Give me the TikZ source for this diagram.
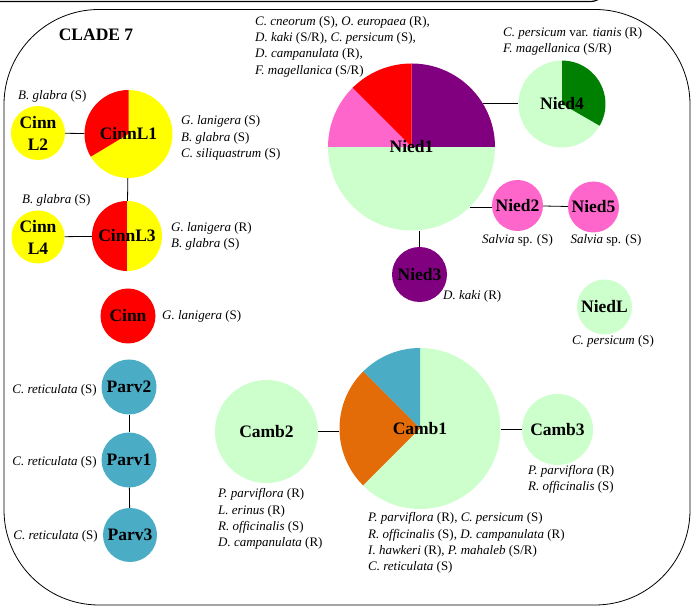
\documentclass[tikz,border=0pt]{standalone}
\usepackage{fontspec}
\setmainfont{Liberation Serif}
\definecolor{lgreen}{HTML}{CCFFCC}
\definecolor{tealb}{HTML}{4BACC6}
\definecolor{orng}{HTML}{E36C09}
\definecolor{purp}{HTML}{800080}
\definecolor{pinkc}{HTML}{FF66CC}
\definecolor{dgreen}{HTML}{008000}
\definecolor{redc}{HTML}{FF0000}
\definecolor{yelc}{HTML}{FFFF00}
\newcommand\myslice[6]{\fill[#1] (#2,#3) -- ++(#5:#4) arc[start angle=#5, end angle=#6, radius=#4] -- cycle;}
\tikzset{
  hap/.style={circle, inner sep=0pt, minimum size=#1, font=\fontsize{17.5}{22}\selectfont\bfseries, align=center},
  lab/.style={inner sep=0pt, font=\fontsize{13}{16.3}\selectfont, align=left},
  link/.style={draw=black, line width=0.8pt},
}
\begin{document}
\begin{tikzpicture}[x=1pt,y=1pt]
\useasboundingbox (0,0) rectangle (691,607);
% top line of previous panel
\draw[line width=1.2pt] (0,605.5) -- (590,605.5) .. controls (594,605.5) and (597,606.5) .. (599,608);
% frame
\draw[line width=0.8pt, rounded corners=95pt] (4,2) rectangle (690,597.5);
% pies
\myslice{yelc}{128.5}{473}{44}{-149}{90}
\myslice{redc}{128.5}{473}{44}{90}{211}
\myslice{redc}{127}{371}{35}{90}{270}
\myslice{yelc}{127}{371}{35}{-90}{90}
\myslice{lgreen}{411.5}{460}{83.5}{180}{360}
\myslice{purp}{411.5}{460}{83.5}{0}{90}
\myslice{redc}{411.5}{460}{83.5}{90}{135}
\myslice{pinkc}{411.5}{460}{83.5}{135}{180}
\myslice{lgreen}{562}{503}{43.5}{90}{330}
\myslice{dgreen}{562}{503}{43.5}{-30}{90}
\myslice{lgreen}{420}{178.5}{80.5}{-135}{90}
\myslice{tealb}{420}{178.5}{80.5}{90}{135}
\myslice{orng}{420}{178.5}{80.5}{135}{225}
% haplotype nodes
\node[hap=54pt, fill=yelc] (CinnL2) at (38,474) {Cinn\\L2};
\node[hap=88pt] (CinnL1) at (128.5,473) {CinnL1};
\node[hap=70pt] (CinnL3) at (127,371) {CinnL3};
\node[hap=53pt, fill=yelc] (CinnL4) at (38,370) {Cinn\\L4};
\node[hap=55pt, fill=redc] (Cinn) at (128,291) {Cinn};
\node[hap=55pt, fill=tealb] (Parv2) at (129,220) {Parv2};
\node[hap=55pt, fill=tealb] (Parv1) at (129,147) {Parv1};
\node[hap=54pt, fill=tealb] (Parv3) at (130,72) {Parv3};
\node[hap=103pt, fill=lgreen] (Camb2) at (266.5,175.5) {Camb2};
\node[hap=161pt] (Camb1) at (420,178.5) {Camb1};
\node[hap=71pt, fill=lgreen] (Camb3) at (557.5,177.5) {Camb3};
\node[hap=167pt] (Nied1) at (411.5,460) {Nied1};
\node[hap=87pt] (Nied4) at (562,503) {Nied4};
\node[hap=51pt, fill=pinkc] (Nied2) at (517.5,401.5) {Nied2};
\node[hap=51pt, fill=pinkc] (Nied5) at (593.5,400) {Nied5};
\node[hap=55pt, fill=purp] (Nied3) at (419.5,332.5) {Nied3};
\node[hap=55pt, fill=lgreen] (NiedL) at (604.5,300) {NiedL};
% connectors
\draw[link] (CinnL2) -- (CinnL1);
\draw[link] (CinnL1) -- (CinnL3);
\draw[link] (CinnL4) -- (CinnL3);
\draw[link] (Parv2) -- (Parv1);
\draw[link] (Parv1) -- (Parv3);
\draw[link] (Camb2.east) -- (Camb2.east -| Camb1.west);
\draw[link] (Camb3.west) -- (Camb3.west -| Camb1.east);
\draw[link] (Nied1.31) -- (Nied1.31 -| Nied4.west);
\draw[link] (Nied1.-46) -- (Nied1.-46 -| Nied2.west);
\draw[link] (Nied2) -- (Nied5);
\draw[link] (Nied3.north) -- (Nied3.north |- Nied1.south);
% title
\node[font=\fontsize{17.5}{21}\selectfont\bfseries, inner sep=0pt] (title) at (96,572) {CLADE 7};
% labels
\node[lab, anchor=west] (l1) at (255,560.5) {\textit{C. cneorum} (S), \textit{O. europaea} (R),\\ \textit{D. kaki} (S/R), \textit{C. persicum} (S),\\ \textit{D. campanulata} (R),\\ \textit{F. magellanica} (S/R)};
\node[lab, anchor=west] (l2) at (503,565.5) {\textit{C. persicum} var. \textit{tianis} (R)\\ \textit{F. magellanica} (S/R)};
\node[lab, anchor=west] (l3) at (18,511) {\textit{B. glabra} (S)};
\node[lab, anchor=west] (l4) at (181,469) {\textit{G. lanigera} (S)\\ \textit{B. glabra} (S)\\ \textit{C. siliquastrum} (S)};
\node[lab, anchor=west] (l5) at (22,407) {\textit{B. glabra} (S)};
\node[lab, anchor=west] (l6) at (171,370.5) {\textit{G. lanigera} (R)\\ \textit{B. glabra} (S)};
\node[lab, anchor=west] (l7) at (162,291) {\textit{G. lanigera} (S)};
\node[lab] (l8) at (517.5,367) {\textit{Salvia} sp. (S)};
\node[lab] (l9) at (606,367) {\textit{Salvia} sp. (S)};
\node[lab, anchor=west] (l10) at (443,311) {\textit{D. kaki} (R)};
\node[lab] (l11) at (613,266) {\textit{C. persicum} (S)};
\node[lab, anchor=east] (l12) at (97,217) {\textit{C. reticulata} (S)};
\node[lab, anchor=east] (l13) at (97,145) {\textit{C. reticulata} (S)};
\node[lab, anchor=east] (l14) at (98,71) {\textit{C. reticulata} (S)};
\node[lab, anchor=west] (l15) at (218,88) {\textit{P. parviflora} (R)\\ \textit{L. erinus} (R)\\ \textit{R. officinalis} (S)\\ \textit{D. campanulata} (R)};
\node[lab, anchor=west] (l16) at (368,64) {\textit{P. parviflora} (R), \textit{C. persicum} (S)\\ \textit{R. officinalis} (S), \textit{D. campanulata} (R)\\ \textit{I. hawkeri} (R), \textit{P. mahaleb} (S/R)\\ \textit{C. reticulata} (S)};
\node[lab, anchor=west] (l17) at (528,128) {\textit{P. parviflora} (R)\\ \textit{R. officinalis} (S)};
\end{tikzpicture}
\end{document}
